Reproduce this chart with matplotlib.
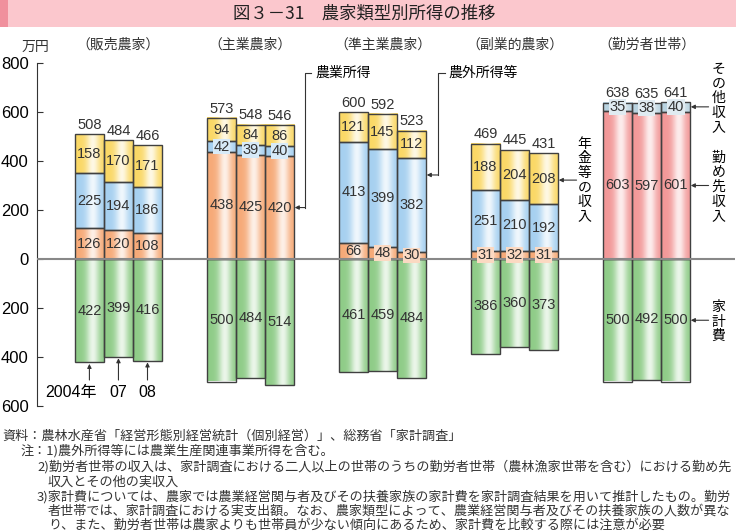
import numpy as np
import matplotlib
matplotlib.use("Agg")
import matplotlib.pyplot as plt
from matplotlib.colors import to_rgb
from matplotlib.patches import Rectangle

plt.rcParams["font.family"] = ["Liberation Sans", "Noto Sans CJK JP", "DejaVu Sans"]

groups = ["（販売農家）", "（主業農家）", "（準主業農家）", "（副業的農家）", "（勤労者世帯）"]
years = ["2004年", "07", "08"]

# farm households: 販売, 主業, 準主業, 副業的
farm_income = [[126, 120, 108], [438, 425, 420], [66, 48, 30], [31, 32, 31]]
nonfarm_income = [[225, 194, 186], [42, 39, 40], [413, 399, 382], [251, 210, 192]]
pension_income = [[158, 170, 171], [94, 84, 86], [121, 145, 112], [188, 204, 208]]
farm_totals = [[508, 484, 466], [573, 548, 546], [600, 592, 523], [469, 445, 431]]

# worker households
wage_income = [603, 597, 601]
other_income = [35, 38, 40]
worker_totals = [638, 635, 641]

expenditure = [[422, 399, 416], [500, 484, 514], [461, 459, 484],
               [386, 360, 373], [500, 492, 500]]

C_FARM = "#f6aa78"
C_NONFARM = "#a6d0f0"
C_PENSION = "#fad866"
C_EXP = "#8fcc88"
C_WAGE = "#f29898"
C_OTHER = "#b9d3e0"
EDGE = "#404040"

BW = 0.22
CJK = "Noto Sans CJK JP"


def gradient(base):
    t = np.linspace(0, 1, 64)
    w = 0.82 * np.exp(-((t - 0.6) / 0.22) ** 2)
    rgb = np.array(to_rgb(base))
    img = rgb[None, :] * (1 - w[:, None]) + w[:, None]
    return img[None, :, :]


def light(base, k=0.55):
    rgb = np.array(to_rgb(base))
    return tuple(rgb * (1 - k) + k)


def segment(ax, x, y0, y1, color, label=None):
    ax.imshow(gradient(color), extent=[x - BW / 2, x + BW / 2, y0, y1],
              aspect="auto", interpolation="bilinear", zorder=2)
    ax.add_patch(Rectangle((x - BW / 2, y0), BW, y1 - y0, fill=False,
                           ec=EDGE, lw=1.0, zorder=3))
    if label is not None:
        ym = (y0 + y1) / 2
        kw = {}
        if abs(y1 - y0) < 55:
            kw["bbox"] = dict(boxstyle="square,pad=0.05", fc=light(color), ec="none")
        ax.text(x, ym, str(label), ha="center", va="center", fontsize=10.5,
                color="#333333", zorder=5, **kw)


fig = plt.figure(figsize=(7.36, 5.31), dpi=100)
ax = fig.add_axes([37 / 736, 125 / 531, 698 / 736, 343 / 531])

for g in range(5):
    for j in range(3):
        x = g + (j - 1) * BW
        if g < 4:
            a = farm_income[g][j]
            b = nonfarm_income[g][j]
            c = pension_income[g][j]
            segment(ax, x, 0, a, C_FARM, a)
            segment(ax, x, a, a + b, C_NONFARM, b)
            segment(ax, x, a + b, a + b + c, C_PENSION, c)
            top = a + b + c
            total = farm_totals[g][j]
        else:
            a = wage_income[j]
            b = other_income[j]
            segment(ax, x, 0, a, C_WAGE, a)
            segment(ax, x, a, a + b, C_OTHER, b)
            top = a + b
            total = worker_totals[j]
        ax.text(x, top + 10, str(total), ha="center", va="bottom",
                fontsize=10.5, color="#333333")
        e = expenditure[g][j]
        segment(ax, x, -e, 0, C_EXP, e)

ax.axhline(0, color="#888888", lw=1.5, zorder=4)

ax.set_xlim(-0.617, 4.67)
ax.set_ylim(-600, 800)
ax.set_yticks(range(-600, 801, 200))
ax.set_yticklabels([str(abs(v)) for v in range(-600, 801, 200)], fontsize=12)
ax.set_xticks([])
for s in ["top", "right", "bottom"]:
    ax.spines[s].set_visible(False)
ax.spines["left"].set_color("#333333")
ax.tick_params(axis="y", direction="in", length=4, color="#333333", pad=6)
ax.set_facecolor("none")

arrow = dict(arrowstyle="-|>", color="#333333", lw=0.8, mutation_scale=6,
             shrinkA=0, shrinkB=0)
line_kw = dict(color="#333333", lw=0.8)

# 農業所得
xr = 1 + 1.5 * BW
ax.plot([1.46, 1.413, 1.413], [759, 759, 210], **line_kw)
ax.annotate("", xy=(xr + 0.005, 210), xytext=(1.413, 210), arrowprops=arrow)
ax.text(1.49, 759, "農業所得", ha="left", va="center", fontsize=10, family=CJK)

# 農外所得等
xr = 2 + 1.5 * BW
ax.plot([2.47, 2.42, 2.42], [759, 759, 343], **line_kw)
ax.annotate("", xy=(xr + 0.005, 343), xytext=(2.42, 343), arrowprops=arrow)
ax.text(2.496, 759, "農外所得等", ha="left", va="center", fontsize=10, family=CJK)

# 年金等の収入
xr = 3 + 1.5 * BW
ax.annotate("", xy=(xr + 0.005, 322), xytext=(3.47, 322), arrowprops=arrow)
ax.text(3.53, 322, "\n".join("年金等の収入"), ha="center", va="center",
        fontsize=10, family=CJK, linespacing=1.05)

# worker household labels
xr = 4 + 1.5 * BW
for yv, yt, txt in [(621, 657, "その他収入"), (300, 294, "勤め先収入"), (-250, -256, "家計費")]:
    ax.annotate("", xy=(xr + 0.005, yv), xytext=(4.47, yv), arrowprops=arrow)
    ax.text(4.545, yt, "\n".join(txt), ha="center", va="center",
            fontsize=10, family=CJK, linespacing=1.05)

# year labels
for j, yr in enumerate(years):
    cx = (j - 1) * BW
    ax.annotate("", xy=(cx, -expenditure[0][j] - 6), xytext=(cx, -494), arrowprops=arrow)
    if j == 0:
        ax.text(cx + 0.057, -543, yr, ha="right", va="center", fontsize=11.5)
    else:
        ax.text(cx, -543, yr, ha="center", va="center", fontsize=11.5)

# group headers
for g, name in enumerate(groups):
    ax.text(g, 875, name, ha="center", va="center", fontsize=10, family=CJK,
            color="#333333", clip_on=False)
fig.text(35 / 736, 1 - 47 / 531, "万円", ha="center", va="center", fontsize=10,
         family=CJK, color="#333333")

# title bar
fig.patches.append(Rectangle((0, 1 - 27 / 531), 1, 27 / 531, transform=fig.transFigure,
                             fc="#fbc7cd", ec="none", zorder=0))
fig.patches.append(Rectangle((0, 1 - 27 / 531), 8 / 736, 27 / 531, transform=fig.transFigure,
                             fc="#f0909d", ec="none", zorder=0))
fig.text(364 / 736, 1 - 14 / 531, "図３－31　農家類型別所得の推移", ha="center", va="center",
         fontsize=12.5, family=CJK, color="#222222")

notes = [
    (2, 436, "資料：農林水産省「経営形態別経営統計（個別経営）」、総務省「家計調査」"),
    (20, 451, "注：1)農外所得等には農業生産関連事業所得を含む。"),
    (37, 467, "2)勤労者世帯の収入は、家計調査における二人以上の世帯のうちの勤労者世帯（農林漁家世帯を含む）における勤め先"),
    (48, 482, "収入とその他の実収入"),
    (37, 497, "3)家計費については、農家では農業経営関与者及びその扶養家族の家計費を家計調査結果を用いて推計したもの。勤労"),
    (48, 511, "者世帯では、家計調査における実支出額。なお、農家類型によって、農業経営関与者及びその扶養家族の人数が異な"),
    (48, 525, "り、また、勤労者世帯は農家よりも世帯員が少ない傾向にあるため、家計費を比較する際には注意が必要"),
]
for x, y, s in notes:
    fig.text(x / 736, 1 - y / 531, s, ha="left", va="center", fontsize=9.45,
             family=CJK, color="#333333")

fig.savefig("out.png", dpi=100)
